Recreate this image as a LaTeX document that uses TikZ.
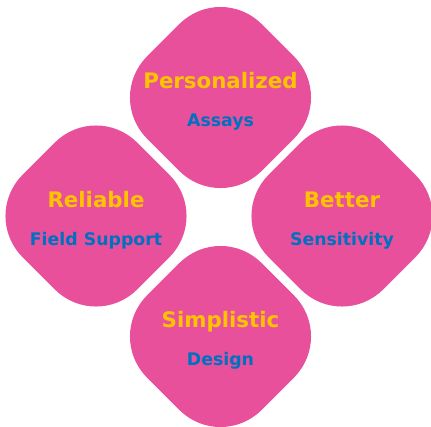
\documentclass[tikz,border=0pt]{standalone}
\usepackage{fontspec}
\setmainfont{DejaVu Sans}
\definecolor{petalpink}{RGB}{232,80,156}
\definecolor{headgold}{RGB}{255,196,0}
\definecolor{subblue}{RGB}{0,112,192}

\begin{document}
\begin{tikzpicture}[x=1bp,y=-1bp,every node/.style={outer sep=0pt},
 petal/.style={fill=petalpink,draw=none,rotate=45,minimum size=162bp,
 rounded corners=58bp,inner sep=0pt},
 head/.style={anchor=base,inner sep=0pt,text=headgold,
 font=\fontsize{21.4}{25}\selectfont\bfseries},
 sub/.style={anchor=base,inner sep=0pt,text=subblue,
 font=\fontsize{17.4}{21}\selectfont\bfseries}]

  \useasboundingbox (0,0) rectangle (431,427);

  \foreach \N/\X/\Y/\A/\B in {pers/220.5/97.5/Personalized/Assays,
   reli/96/216/Reliable/Field Support,bett/342/216/Better/Sensitivity,
   simp/220.5/336.5/Simplistic/Design}
  {\node[petal] (\N) at (\X,\Y) {};
   \node[head] (\N-head) at ([yshift=9bp]\N.center) {\A};
   \node[sub] (\N-sub) at ([yshift=-29bp]\N.center) {\B};
  }
\end{tikzpicture}
\end{document}
